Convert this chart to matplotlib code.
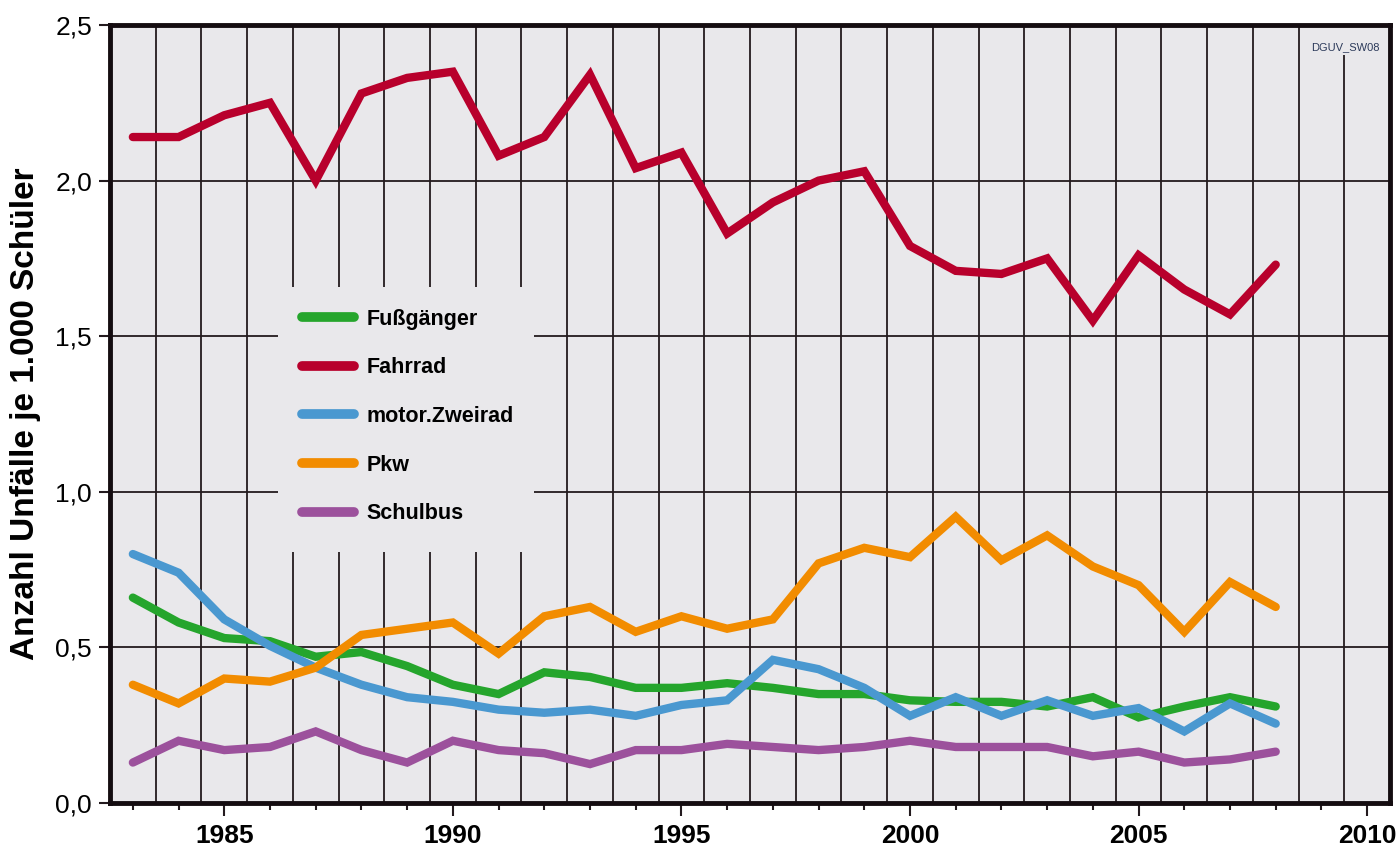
import matplotlib
matplotlib.use("Agg")
import matplotlib.pyplot as plt
from matplotlib.patches import Rectangle
import numpy as np

plt.rcParams['font.family'] = ['Liberation Sans', 'DejaVu Sans']

years = list(range(1983, 2009))
fussgaenger = [0.66, 0.58, 0.53, 0.52, 0.47, 0.485, 0.44, 0.38, 0.35, 0.42, 0.405, 0.37, 0.37,
               0.385, 0.37, 0.35, 0.35, 0.33, 0.325, 0.325, 0.31, 0.34, 0.275, 0.31, 0.34, 0.31]
fahrrad = [2.14, 2.14, 2.21, 2.25, 2.00, 2.28, 2.33, 2.35, 2.08, 2.14, 2.34, 2.04, 2.09,
           1.83, 1.93, 2.00, 2.03, 1.79, 1.71, 1.70, 1.75, 1.55, 1.76, 1.65, 1.57, 1.73]
motor_zweirad = [0.80, 0.74, 0.59, 0.505, 0.435, 0.38, 0.34, 0.325, 0.30, 0.29, 0.30, 0.28, 0.315,
                 0.33, 0.46, 0.43, 0.37, 0.28, 0.34, 0.28, 0.33, 0.28, 0.305, 0.23, 0.32, 0.255]
pkw = [0.38, 0.32, 0.40, 0.39, 0.435, 0.54, 0.56, 0.58, 0.48, 0.60, 0.63, 0.55, 0.60,
       0.56, 0.59, 0.77, 0.82, 0.79, 0.92, 0.78, 0.86, 0.76, 0.70, 0.55, 0.71, 0.63]
schulbus = [0.13, 0.20, 0.17, 0.18, 0.23, 0.17, 0.13, 0.20, 0.17, 0.16, 0.125, 0.17, 0.17,
            0.19, 0.18, 0.17, 0.18, 0.20, 0.18, 0.18, 0.18, 0.15, 0.165, 0.13, 0.14, 0.165]

series_labels = ['Fußgänger', 'Fahrrad', 'motor.Zweirad', 'Pkw', 'Schulbus']
series_values = [fussgaenger, fahrrad, motor_zweirad, pkw, schulbus]
series_colors = ['#25a52c', '#b8002c', '#4a98d0', '#f28c00', '#9c519c']

x_major = [1985, 1990, 1995, 2000, 2005, 2010]
y_ticks = [0.0, 0.5, 1.0, 1.5, 2.0, 2.5]
y_ticklabels = ['0,0', '0,5', '1,0', '1,5', '2,0', '2,5']

bg = '#e9e8eb'
dark = '#231a1e'

fig = plt.figure(figsize=(13.99, 8.5), dpi=100)
ax = fig.add_axes([110/1399, 47/850, 1280/1399, 778/850])
ax.set_facecolor(bg)
ax.set_xlim(1982.5, 2010.5)
ax.set_ylim(0, 2.5)

# grid: vertical between years, horizontal at y ticks
for xv in np.arange(1983.5, 2010, 1.0):
    top = 2.405 if xv > 2009 else 2.5
    ax.vlines(xv, 0, top, color=dark, lw=1.3, zorder=0.5)
for yv in y_ticks[1:-1]:
    ax.axhline(yv, color=dark, lw=1.3, zorder=0.5)

# legend background covering the grid
ax.add_patch(Rectangle((0.131, 0.323), 0.2, 0.34, transform=ax.transAxes,
                       facecolor=bg, edgecolor='none', zorder=1))

for lab, vals, col in zip(series_labels, series_values, series_colors):
    ax.plot(years, vals, color=col, lw=6, solid_capstyle='round',
            solid_joinstyle='miter', label=lab, zorder=3)

leg = ax.legend(loc='upper left', bbox_to_anchor=(0.135, 0.66), frameon=False,
                prop={'weight': 'bold', 'size': 15.5}, handlelength=2.4,
                handletextpad=0.6, labelspacing=1.28)
for h in leg.legend_handles:
    h.set_linewidth(7)
    h.set_solid_capstyle('round')
leg.set_zorder(4)

ax.set_xticks(x_major)
ax.set_xticks(years + [2009], minor=True)
ax.set_xticklabels([str(v) for v in x_major], fontsize=19, fontweight='bold')
ax.set_yticks(y_ticks)
ax.set_yticklabels(y_ticklabels, fontsize=19)
ax.tick_params(axis='x', which='major', length=9, width=1.5, color=dark, pad=6)
ax.tick_params(axis='x', which='minor', length=5, width=1.5, color=dark)
ax.tick_params(axis='y', length=8, width=1.5, color=dark, pad=5)

for s in ax.spines.values():
    s.set_linewidth(3.5)
    s.set_color('#140c10')

ax.set_ylabel('Anzahl Unfälle je 1.000 Schüler', fontsize=24, fontweight='bold', labelpad=10)

ax.text(0.965, 0.978, 'DGUV_SW08', transform=ax.transAxes, fontsize=8,
        color='#2c3a5a', ha='center', va='top')

fig.savefig('out.png', dpi=100, facecolor='white')
